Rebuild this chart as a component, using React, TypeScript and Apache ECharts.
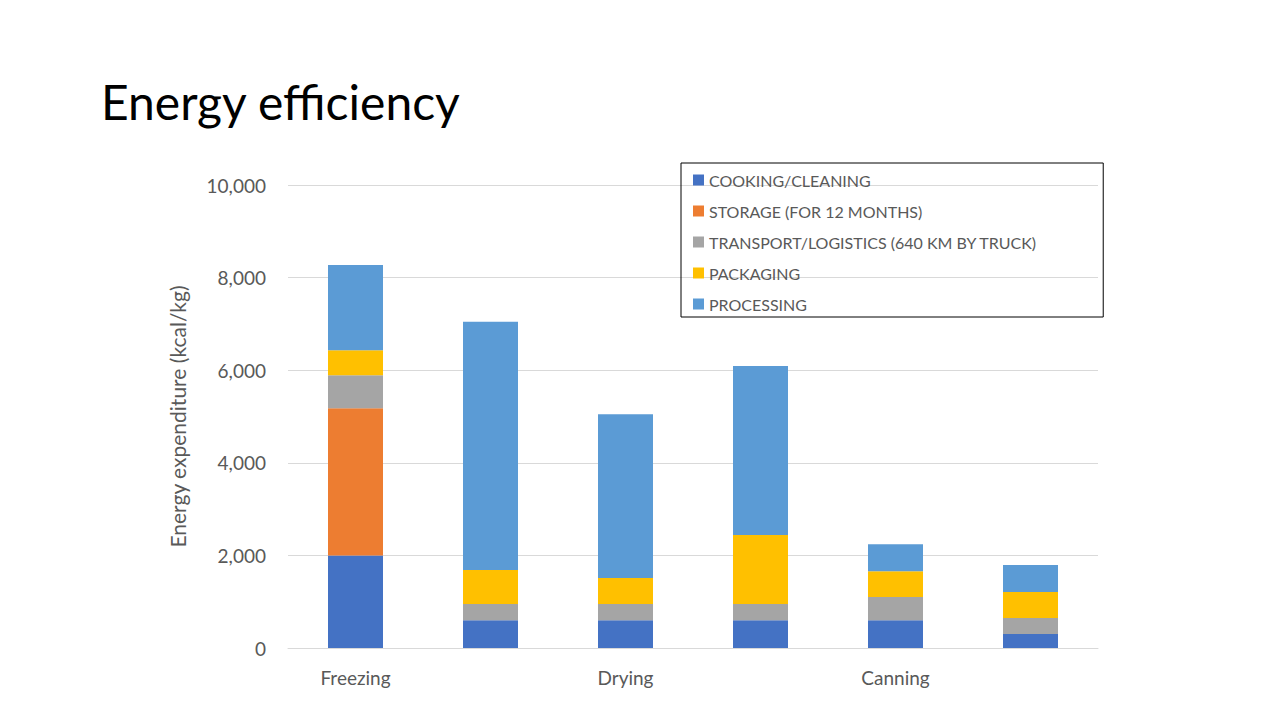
import { useEffect, useRef } from 'react'
import * as echarts from 'echarts'

const categories = ['Freezing', 'Freeze-drying', 'Drying', 'MATS', 'Canning', 'ASAP']
const cooking = [2000, 600, 600, 600, 600, 300]
const storage = [3180, 0, 0, 0, 0, 0]
const transport = [710, 350, 350, 350, 500, 350]
const packaging = [540, 735, 560, 1490, 560, 560]
const processing = [1840, 5360, 3540, 3650, 580, 580]

const FONT = 'Lato, "Open Sans", sans-serif'

const App = () => {
  const chartRef = useRef<HTMLDivElement>(null)

  useEffect(() => {
    if (!chartRef.current) return
    const chart = echarts.init(chartRef.current, null, { renderer: 'svg' })
    const mk = (name: string, data: number[], color: string) => ({
      name, type: 'bar', stack: 'total', data, barWidth: 55,
      itemStyle: { color }
    })
    chart.setOption({
      animation: false,
      textStyle: { fontFamily: FONT },
      title: {
        text: 'Energy efficiency', left: 96, top: 72,
        textStyle: { fontSize: 48, fontWeight: 'normal', color: '#000', fontFamily: FONT }
      },
      legend: {
        orient: 'vertical', left: 681, top: 163, width: 414,
        data: ['COOKING/CLEANING', 'STORAGE (FOR 12 MONTHS)', 'TRANSPORT/LOGISTICS (640 KM BY TRUCK)', 'PACKAGING', 'PROCESSING'],
        borderColor: '#000', borderWidth: 1, padding: [9, 66, 5, 12],
        itemWidth: 11, itemHeight: 11, itemGap: 15, icon: 'rect',
        textStyle: { fontSize: 16, color: '#595959', fontFamily: FONT }
      },
      grid: { left: 288, right: 182, top: 185, bottom: 72 },
      xAxis: {
        type: 'category', data: categories,
        axisLine: { lineStyle: { color: '#d9d9d9' } }, axisTick: { show: false },
        axisLabel: { fontSize: 19, color: '#595959', margin: 20 }
      },
      yAxis: {
        type: 'value', min: 0, max: 10000, interval: 2000,
        name: 'Energy expenditure (kcal/kg)', nameLocation: 'middle', nameGap: 100,
        nameTextStyle: { fontSize: 21, color: '#595959' },
        axisLabel: { fontSize: 19, color: '#595959', margin: 22 },
        splitLine: { lineStyle: { color: '#d9d9d9' } }
      },
      series: [
        mk('COOKING/CLEANING', cooking, '#4472c4'),
        mk('STORAGE (FOR 12 MONTHS)', storage, '#ed7d31'),
        mk('TRANSPORT/LOGISTICS (640 KM BY TRUCK)', transport, '#a5a5a5'),
        mk('PACKAGING', packaging, '#ffc000'),
        mk('PROCESSING', processing, '#5b9bd5')
      ]
    })
    return () => chart.dispose()
  }, [])

  return <div ref={chartRef} style={{ width: 1280, height: 720, position: 'absolute', left: 0, top: 0, background: '#fff' }} />
}

export default App
